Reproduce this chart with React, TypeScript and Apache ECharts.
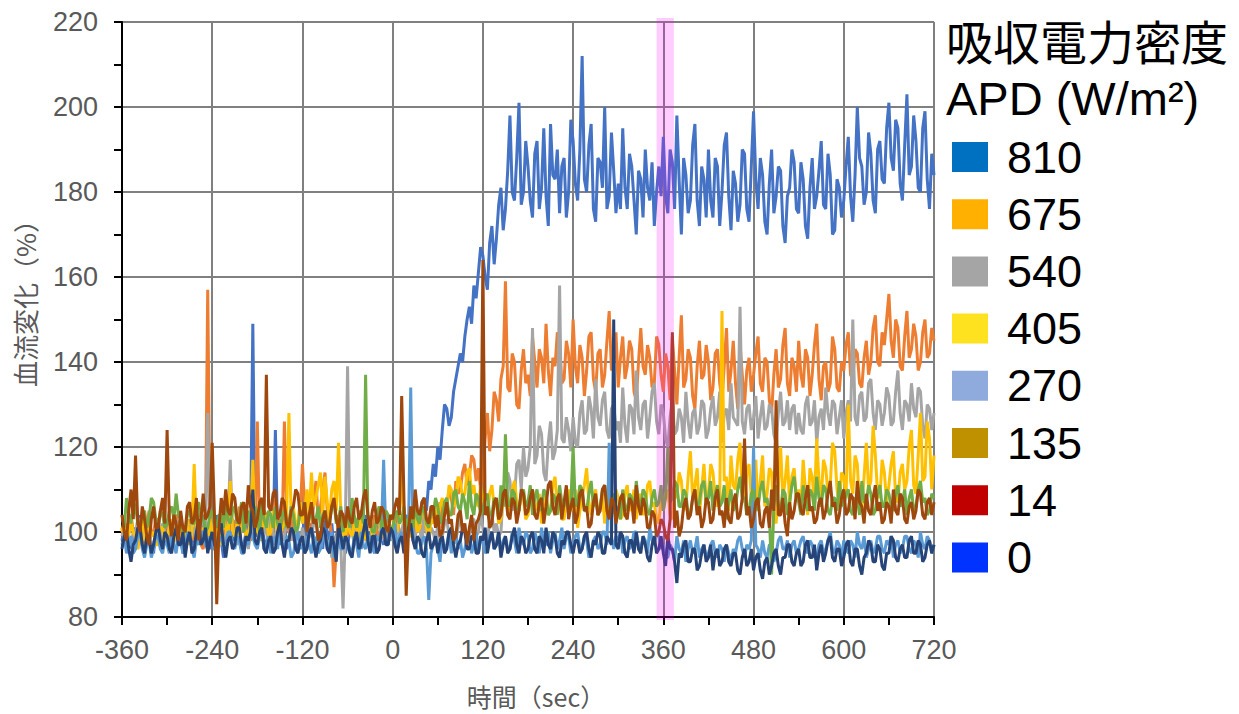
import React, { useEffect, useRef } from "react";
import * as echarts from "echarts";

// Sampling grid: one value every 3 s from -360 s to 720 s
const T_START = -360;
const T_STEP = 3;

// 810 W/m2 (drawn in Excel default blue)
const s810 = [
  98,101,102,99,96,99,101,97,104,100,97,103,100,97,95,101,103,98,99,103,
  101,98,97,102,104,100,99,95,96,100,102,97,100,103,98,101,103,99,97,96,
  100,97,104,101,98,94,96,100,102,98,99,103,101,96,97,100,103,101,149,100,
  99,103,102,98,96,101,100,98,124,99,97,101,103,96,98,102,101,97,96,99,
  100,103,97,99,102,98,95,100,99,96,103,100,98,102,96,99,101,97,99,95,
  97,100,102,98,99,103,96,100,104,97,100,96,98,101,103,99,97,102,101,98,
  100,97,103,100,98,102,104,99,101,105,106,102,103,107,108,105,112,110,116,113,
  120,117,124,130,129,125,127,133,136,139,142,140,146,150,153,149,158,155,161,167,
  165,160,157,168,172,163,169,177,181,171,176,185,198,180,178,188,201,177,180,192,
  186,178,174,189,192,176,181,195,179,172,196,184,183,190,175,186,188,174,180,197,
  192,182,178,190,212,183,180,191,196,176,173,188,187,181,200,176,179,194,185,175,
  182,176,195,181,176,189,186,178,170,185,183,174,190,181,178,187,172,180,186,179,
  193,179,175,190,187,176,198,183,170,188,184,175,178,191,196,178,172,186,183,174,
  190,178,174,188,186,172,180,191,194,179,171,185,182,173,177,190,189,176,173,186,
  199,183,176,188,184,173,170,182,190,175,179,186,185,172,168,179,181,190,187,176,
  175,187,183,172,169,181,188,176,179,185,192,177,176,189,184,170,171,183,181,174,
  178,186,193,179,173,184,200,188,186,177,180,194,189,178,175,190,192,183,182,195,
  201,188,185,197,195,182,178,191,203,184,186,198,192,181,180,195,199,183,176,189,
  184,
];

// 675 W/m2
const s675 = [
  101,97,98,102,104,100,99,96,102,99,97,101,105,99,100,103,103,99,98,101,
  102,98,99,103,104,100,97,101,101,98,103,100,98,102,100,97,96,101,157,104,
  103,99,99,102,101,97,104,100,98,103,102,99,106,101,100,104,103,98,99,101,
  126,100,101,105,104,99,99,103,108,102,103,100,126,104,100,98,105,101,102,104,
  116,106,104,101,100,107,112,103,106,110,114,105,103,99,87,96,104,100,101,103,
  99,102,103,98,100,104,105,101,98,103,102,99,104,100,99,102,101,98,103,101,
  100,103,104,99,98,102,103,100,101,104,99,102,102,98,105,101,100,104,103,106,
  104,107,101,105,106,110,108,104,112,109,110,114,116,111,113,118,117,112,115,110,
  112,122,128,119,124,133,131,126,136,139,159,134,133,142,140,130,129,138,143,135,
  137,132,146,140,134,143,141,135,149,138,132,141,139,147,144,135,136,145,142,134,
  150,139,135,144,141,132,138,146,147,136,133,142,143,134,137,145,152,138,140,147,
  134,141,146,136,139,145,143,133,131,140,148,139,137,144,141,134,135,146,144,137,
  133,142,139,131,146,138,130,141,151,134,136,143,141,132,129,139,145,136,137,144,
  140,131,134,142,143,135,131,139,148,133,138,145,135,129,144,137,130,138,141,133,
  137,142,146,135,133,141,140,131,128,137,143,134,136,144,148,135,132,141,139,133,
  145,137,134,143,141,132,137,144,149,136,131,139,140,133,135,146,143,134,133,140,
  138,144,147,137,136,143,142,135,134,141,145,137,140,148,151,140,139,147,144,150,
  156,145,141,150,148,139,138,146,152,141,143,149,146,138,140,147,150,141,142,148,
  145,
];

// 540 W/m2
const s540 = [
  99,101,102,98,97,100,100,103,103,99,98,102,101,97,96,100,100,97,102,100,
  98,102,101,97,103,100,99,96,97,101,102,99,100,103,98,101,104,100,128,101,
  100,103,97,100,103,98,99,102,117,100,101,97,98,101,102,99,96,100,100,103,
  102,99,98,101,100,97,104,100,97,102,101,98,99,103,103,99,98,101,100,97,
  101,98,97,100,99,102,103,98,96,99,100,97,98,94,95,99,99,97,82,100,
  139,101,100,97,103,99,98,102,101,98,97,100,100,103,102,98,99,102,101,99,
  98,101,102,99,100,103,97,100,103,98,99,102,101,97,104,100,98,101,100,97,
  102,98,99,102,103,99,100,97,98,101,104,100,101,98,99,103,103,99,100,104,
  101,97,98,103,104,100,102,99,100,109,106,114,112,105,108,116,117,110,120,113,
  115,120,148,116,118,125,123,114,112,121,126,117,119,124,158,122,121,127,124,119,
  127,121,120,128,131,123,124,132,129,122,136,127,125,131,133,124,122,129,130,124,
  126,121,134,125,121,130,129,123,138,127,124,130,131,122,127,133,135,126,123,130,
  128,122,120,127,131,123,124,129,127,121,133,126,122,128,129,123,125,131,130,122,
  124,129,132,125,127,133,121,128,129,124,135,127,126,125,153,126,123,129,130,124,
  127,132,122,127,131,124,125,130,129,123,121,128,133,125,126,131,124,129,130,123,
  128,124,123,130,132,125,126,131,121,127,129,124,134,128,125,131,130,123,127,131,
  122,128,131,126,150,127,125,132,133,126,127,135,136,128,124,131,130,125,128,134,
  132,125,126,133,138,128,124,131,130,126,135,129,127,134,133,125,122,130,129,124,
  128,
];

// 405 W/m2
const s405 = [
  100,103,97,99,103,100,99,96,101,104,98,100,102,99,100,97,97,101,101,98,
  99,101,103,100,98,102,101,97,100,103,97,100,116,101,99,97,101,100,98,103,
  100,97,102,99,97,103,101,98,112,100,99,102,98,101,103,99,100,102,117,100,
  101,98,99,103,104,99,100,105,103,99,98,101,102,104,128,103,106,100,103,107,
  102,105,110,104,114,106,108,111,114,104,113,107,103,110,112,105,121,104,100,98,
  103,100,99,102,101,98,104,100,98,103,102,99,100,104,103,100,99,102,101,103,
  104,101,100,103,117,102,102,99,99,104,103,100,101,106,105,101,98,103,102,106,
  103,106,108,104,105,111,110,106,107,113,112,108,109,114,115,109,111,107,106,111,
  108,105,104,109,111,106,107,102,103,108,109,105,106,110,112,107,105,109,108,103,
  104,108,110,105,106,109,102,106,109,104,105,111,113,106,107,103,103,108,110,105,
  106,110,101,105,108,111,115,107,104,108,110,104,106,109,102,107,109,104,105,110,
  108,103,104,109,111,105,106,110,103,107,109,104,105,111,112,106,107,103,102,108,
  105,109,110,104,103,110,108,114,112,105,106,113,119,108,111,115,104,110,116,107,
  109,116,114,108,106,108,152,112,113,105,118,111,110,117,121,109,107,114,116,108,
  111,117,105,112,118,106,109,115,114,104,102,111,120,108,112,118,106,113,115,108,
  110,106,117,110,104,115,113,107,122,112,108,117,115,109,111,121,119,110,106,114,
  113,108,130,112,109,118,116,106,105,113,121,110,112,125,118,109,108,117,114,107,
  111,116,119,108,107,114,116,110,112,120,124,111,109,118,128,112,113,126,122,110,
  118,
];

// 270 W/m2
const s270 = [
  97,99,95,97,99,95,96,99,100,96,94,97,98,94,96,99,99,96,95,98,
  97,95,100,97,95,99,98,95,96,100,99,96,94,98,97,100,100,97,96,99,
  98,96,95,98,99,96,97,100,100,97,96,99,98,95,95,98,97,100,99,97,
  96,99,100,96,97,99,95,98,99,96,101,97,96,99,98,94,95,98,100,96,
  97,95,99,97,95,99,98,95,96,99,100,96,97,100,94,97,99,96,96,99,
  98,96,95,99,97,94,100,97,96,99,99,96,95,99,98,100,117,99,97,100,
  99,102,96,99,100,97,97,100,134,99,98,95,95,98,99,96,84,95,97,99,
  96,93,99,96,97,100,95,98,100,96,98,94,96,99,99,95,97,100,95,98,
  98,95,96,99,100,96,97,100,95,98,99,96,96,100,98,95,101,98,97,100,
  99,95,96,100,98,95,101,97,97,100,95,98,100,96,98,101,96,99,99,95,
  97,99,100,96,96,99,98,94,95,98,99,96,97,100,100,97,121,99,96,99,
  98,100,95,98,99,96,97,100,100,97,96,99,98,95,101,98,97,100,99,96,
  97,94,94,97,96,93,99,96,95,98,93,96,98,95,96,99,94,96,97,94,
  95,97,98,95,94,97,96,93,97,95,93,96,95,98,99,96,94,97,96,98,
  120,97,96,94,98,95,94,97,97,93,95,98,99,96,96,98,94,97,98,95,
  96,98,99,96,95,98,97,94,94,97,98,95,96,98,100,96,95,98,97,94,
  98,96,95,98,97,94,100,97,96,99,94,96,98,95,96,99,99,96,95,98,
  97,99,94,97,98,95,96,99,99,96,95,98,97,94,100,97,96,99,98,95,
  97,
];

// 135 W/m2
const s135 = [
  104,101,108,104,102,107,106,102,101,104,105,101,103,108,107,103,100,105,104,101,
  102,105,106,103,109,104,103,100,100,104,105,102,102,106,107,103,104,100,101,104,
  105,102,101,104,104,101,108,103,102,105,106,102,103,107,100,103,105,101,102,106,
  103,100,107,103,101,105,104,101,106,102,100,104,105,101,102,106,104,100,101,105,
  104,107,100,103,106,102,103,106,101,104,105,101,102,106,107,102,103,106,100,103,
  104,101,108,104,101,104,105,102,137,104,103,100,100,104,106,101,102,105,104,100,
  101,104,105,102,103,106,100,103,104,101,107,103,102,106,105,102,101,105,104,108,
  106,102,103,107,108,104,104,109,110,106,105,109,107,103,112,106,104,109,108,104,
  105,108,109,104,104,108,107,103,111,106,123,107,106,110,109,105,105,109,110,106,
  107,111,104,108,110,105,106,110,109,104,105,109,108,104,111,107,106,110,104,107,
  120,106,107,111,110,105,105,109,112,106,108,104,106,110,111,106,104,108,109,105,
  106,103,110,106,105,109,108,104,112,107,106,110,109,105,104,108,110,106,107,111,
  105,108,120,107,108,112,111,106,106,110,109,104,104,108,110,105,107,111,112,107,
  108,112,105,109,111,106,107,111,103,107,110,105,106,110,113,108,108,104,105,109,
  110,105,106,110,112,107,108,104,90,106,111,106,105,110,109,104,107,111,113,108,
  107,104,111,107,105,110,109,105,113,108,106,111,110,105,104,108,108,105,112,107,
  106,109,110,105,104,108,108,104,112,107,107,111,109,104,105,109,111,106,106,110,
  109,106,105,109,111,106,107,110,104,108,110,105,106,110,112,107,108,104,105,109,
  108,
];

// 14 W/m2
const s14 = [
  96,99,100,96,93,97,98,101,101,97,95,99,99,95,97,100,102,98,96,100,
  99,96,95,99,101,97,97,100,94,98,100,95,96,100,103,97,98,101,95,98,
  100,97,96,100,102,97,94,98,99,96,97,101,101,97,95,99,98,100,110,98,
  97,100,101,96,95,98,99,95,96,100,102,97,94,98,98,101,100,96,95,98,
  99,95,96,100,101,97,94,97,98,101,100,96,95,99,97,93,102,99,96,99,
  98,95,94,98,100,96,97,100,103,98,95,99,99,95,96,100,101,97,97,101,
  100,97,95,98,99,95,97,101,102,98,96,99,98,95,94,98,100,96,97,99,
  95,98,99,95,96,100,101,97,94,97,98,101,100,96,96,99,99,95,95,99,
  98,101,95,98,100,96,97,100,94,97,99,95,96,99,101,97,95,99,98,95,
  96,99,100,96,95,99,98,95,101,97,96,100,99,95,94,98,97,100,100,97,
  95,98,98,95,96,99,100,96,94,98,97,100,99,95,95,99,98,97,150,97,
  96,100,99,95,94,98,98,95,100,96,95,99,97,94,93,97,99,95,96,99,
  95,92,99,96,96,93,88,95,94,97,98,93,93,96,96,91,92,95,97,93,
  94,97,91,95,96,92,93,96,97,93,92,95,95,91,90,94,96,92,93,96,
  91,94,95,91,89,93,94,90,92,95,96,92,90,94,94,97,97,93,92,95,
  96,92,93,97,98,94,94,97,91,95,97,93,95,98,99,94,93,96,96,92,
  94,97,98,93,92,96,96,92,90,94,95,98,97,93,93,97,96,92,91,95,
  95,99,98,94,93,96,97,94,94,98,99,95,95,98,97,93,94,97,98,95,
  97,
];

// 0 W/m2
const s0 = [
  104,100,98,105,110,103,118,102,100,106,103,99,97,103,106,101,101,105,108,102,
  124,103,99,104,102,98,105,101,100,106,107,102,103,108,98,103,109,103,104,106,
  121,104,83,101,108,104,110,105,104,109,108,103,102,106,107,102,111,106,105,101,
  103,107,108,104,137,106,105,109,110,103,104,108,107,102,101,105,106,110,109,104,
  104,107,100,104,107,102,103,98,99,103,105,101,102,106,108,103,101,105,104,101,
  106,103,102,106,108,103,104,108,110,104,101,105,107,102,103,106,105,101,100,104,
  103,106,108,104,132,108,85,100,106,103,110,105,104,107,108,103,102,106,106,101,
  104,99,100,104,107,102,103,98,99,104,105,100,102,97,101,104,98,102,103,105,
  164,104,106,101,102,107,108,103,104,109,110,104,103,108,107,102,105,110,109,104,
  105,108,110,104,103,107,108,102,106,111,112,106,104,108,109,103,107,111,103,106,
  108,102,104,109,110,105,106,101,102,107,109,104,105,110,111,105,103,108,107,102,
  105,108,109,104,103,108,107,102,111,106,104,108,106,101,101,105,104,99,100,103,
  102,99,98,103,147,101,105,99,101,106,108,103,104,108,110,104,106,101,103,108,
  107,102,103,108,110,104,105,101,108,103,102,107,109,103,104,108,122,104,106,101,
  103,107,108,102,101,105,106,101,110,105,131,104,104,108,102,99,107,103,105,109,
  109,105,104,108,111,105,106,102,103,107,108,103,105,109,112,106,107,102,104,108,
  110,104,105,109,108,103,112,107,106,102,109,105,104,108,111,105,107,102,103,107,
  106,102,110,105,104,109,108,103,102,106,107,103,105,110,109,104,103,107,108,104,
  107,
];

// Legend entries (label, swatch colour), line colours and the exposure window (s)
const legendLabels = ["810", "675", "540", "405", "270", "135", "14", "0"];
const legendColors = ["#0070C0", "#FFB000", "#A5A5A5", "#FFE21F", "#8FAADC", "#BF9000", "#C00000", "#0033FF"];
const lineColors = ["#4472C4", "#ED7D31", "#A5A5A5", "#FFC000", "#5B9BD5", "#70AD47", "#264478", "#9E480E"];
const seriesValues = [s810, s675, s540, s405, s270, s135, s14, s0];
const bandRange = [351, 374];

const xTicks = { min: -360, max: 720, interval: 120 };
const yTicks = { min: 80, max: 220, interval: 20 };

const FONT = "'Liberation Sans', Arial, 'Noto Sans CJK JP', sans-serif";
const CJK = "'Noto Sans CJK JP', 'Liberation Sans', sans-serif";

export default function App() {
  const ref = useRef<HTMLDivElement>(null);

  useEffect(() => {
    document.body.style.margin = "0";
    if (!ref.current) return;
    const chart = echarts.init(ref.current, undefined, { renderer: "svg" });

    const series: any[] = seriesValues.map((vals, k) => ({
      name: legendLabels[k],
      type: "line",
      data: vals.map((v, i) => [T_START + T_STEP * i, v]),
      showSymbol: false,
      symbol: "none",
      lineStyle: { color: lineColors[k], width: 3 },
      itemStyle: { color: lineColors[k] },
      emphasis: { disabled: true },
      z: 2,
    }));

    const axisCommon = {
      axisLine: { show: true, onZero: false, lineStyle: { color: "#000", width: 2 } },
      axisTick: { show: true, length: 8, lineStyle: { color: "#000", width: 2 } },
      minorTick: { show: true, splitNumber: 2, length: 8, lineStyle: { color: "#000", width: 2 } },
      splitLine: { show: true, lineStyle: { color: "#808080", width: 2 } },
    };

    chart.setOption({
      animation: false,
      backgroundColor: "#fff",
      textStyle: { fontFamily: FONT },
      grid: { left: 122, right: 305, top: 22, bottom: 97, containLabel: false },
      xAxis: {
        type: "value",
        min: xTicks.min,
        max: xTicks.max,
        interval: xTicks.interval,
        ...axisCommon,
        axisLabel: { color: "#595959", fontSize: 27, margin: 19, fontFamily: FONT },
      },
      yAxis: {
        type: "value",
        min: yTicks.min,
        max: yTicks.max,
        interval: yTicks.interval,
        ...axisCommon,
        axisLabel: { color: "#595959", fontSize: 27, margin: 24, fontFamily: FONT },
      },
      tooltip: { show: false },
      series,
    });

    // exposure band, positioned through the axes
    const bx0 = chart.convertToPixel({ xAxisIndex: 0 }, bandRange[0]) as number;
    const bx1 = chart.convertToPixel({ xAxisIndex: 0 }, bandRange[1]) as number;
    const byTop = (chart.convertToPixel({ yAxisIndex: 0 }, yTicks.max) as number) - 4;
    const byBot = (chart.convertToPixel({ yAxisIndex: 0 }, yTicks.min) as number) + 3;

    const g: any[] = [
      {
        type: "rect",
        z: 100,
        silent: true,
        shape: { x: bx0, y: byTop, width: bx1 - bx0, height: byBot - byTop },
        style: { fill: "rgba(255,0,255,0.2)" },
      },
      {
        type: "text",
        left: 946,
        top: 16,
        style: { text: "吸収電力密度", fontSize: 47, fill: "#000", fontFamily: CJK },
      },
      {
        type: "text",
        left: 946,
        top: 75,
        style: { text: "APD (W/m²)", fontSize: 47, fill: "#000", fontFamily: FONT },
      },
    ];
    legendLabels.forEach((lab, i) => {
      const cy = 157 + 57.2 * i;
      g.push({
        type: "rect",
        shape: { x: 952, y: cy - 15, width: 36, height: 30 },
        style: { fill: legendColors[i] },
      });
      g.push({
        type: "text",
        x: 1007,
        y: cy,
        style: { text: lab, fontSize: 45, fill: "#000", fontFamily: FONT, verticalAlign: "middle", align: "left" },
      });
    });
    g.push({
      type: "text",
      x: 536,
      y: 696,
      style: { text: "時間（sec）", fontSize: 25, fill: "#595959", fontFamily: CJK, align: "center", verticalAlign: "middle" },
    });
    g.push({
      type: "text",
      x: 24,
      y: 297,
      rotation: Math.PI / 2,
      style: { text: "血流変化（%）", fontSize: 26, fill: "#595959", fontFamily: CJK, align: "center", verticalAlign: "middle" },
    });

    chart.setOption({ graphic: g });

    return () => chart.dispose();
  }, []);

  return <div ref={ref} style={{ width: 1239, height: 714, background: "#fff" }} />;
}
